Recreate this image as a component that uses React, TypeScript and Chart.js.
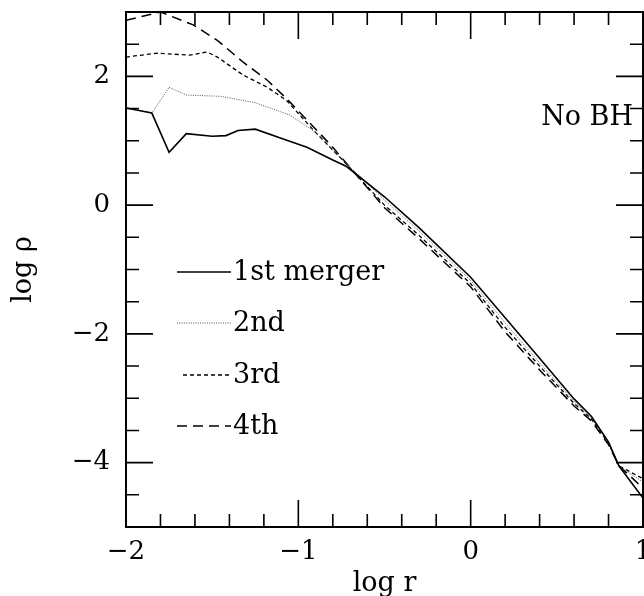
import React, { useEffect, useRef } from 'react';
import { Chart, registerables } from 'chart.js';

Chart.register(...registerables);

// ---- data (log r, log rho) ----
const xFirst = [-2.0, -1.85, -1.75, -1.65, -1.5, -1.42, -1.35, -1.25, -1.1, -0.95, -0.8, -0.72, -0.5, -0.3, 0.0, 0.2, 0.4, 0.6, 0.7, 0.8, 0.86, 0.93, 1.0];
const yFirst = [1.51, 1.43, 0.82, 1.11, 1.07, 1.08, 1.16, 1.18, 1.04, 0.9, 0.7, 0.6, 0.13, -0.35, -1.12, -1.75, -2.38, -3.01, -3.28, -3.68, -4.05, -4.3, -4.55];

const xSecond = [-2.0, -1.85, -1.75, -1.65, -1.45, -1.25, -1.05, -0.9, -0.75, -0.5, -0.3, 0.0, 0.2, 0.4, 0.6, 0.7, 0.8, 0.86, 0.93, 1.0];
const ySecond = [1.51, 1.43, 1.83, 1.71, 1.69, 1.59, 1.4, 1.13, 0.72, 0.08, -0.4, -1.17, -1.83, -2.45, -3.05, -3.3, -3.68, -4.05, -4.18, -4.3];

const xThird = [-2.0, -1.82, -1.63, -1.53, -1.47, -1.32, -1.18, -1.07, -0.9, -0.75, -0.5, -0.3, 0.0, 0.2, 0.4, 0.6, 0.7, 0.8, 0.86, 0.93, 1.0];
const yThird = [2.3, 2.36, 2.33, 2.38, 2.3, 2.02, 1.83, 1.63, 1.13, 0.72, 0.0, -0.47, -1.22, -1.9, -2.5, -3.08, -3.32, -3.7, -4.05, -4.15, -4.25];

const xFourth = [-2.0, -1.8, -1.61, -1.47, -1.32, -1.18, -1.07, -0.91, -0.8, -0.75, -0.5, -0.3, 0.0, 0.2, 0.4, 0.6, 0.7, 0.8, 0.86, 0.93, 1.0];
const yFourth = [2.87, 3.0, 2.8, 2.56, 2.22, 1.94, 1.66, 1.21, 0.9, 0.74, -0.04, -0.52, -1.27, -1.97, -2.56, -3.12, -3.35, -3.72, -4.05, -4.22, -4.4];

const seriesNames = ['1st merger', '2nd', '3rd', '4th'];

const xTickValues = [-2, -1, 0, 1];
const yTickValues = [-4, -2, 0, 2];
const xMinorTicks = [-1.8, -1.6, -1.4, -1.2, -0.8, -0.6, -0.4, -0.2, 0.2, 0.4, 0.6, 0.8];
const yMinorTicks = [-4.5, -3.5, -3, -2.5, -1.5, -1, -0.5, 0.5, 1, 1.5, 2.5];

const annotationText = 'No BH';
const xTitle = 'log r';
const yTitle = 'log ρ';

const FONT = '"DejaVu Serif", serif';

const styles = [
  { color: '#000', width: 1.6, dash: [] as number[] },
  { color: '#555', width: 1, dash: [1, 1.3] },
  { color: '#000', width: 1.3, dash: [4, 3] },
  { color: '#000', width: 1.5, dash: [10, 6] },
];

const fmt = (v: number) => (v < 0 ? '\u2212' + Math.abs(v) : String(v));

export default function App() {
  const ref = useRef<HTMLCanvasElement>(null);

  useEffect(() => {
    if (!ref.current) return;
    const toPts = (xs: number[], ys: number[]) => xs.map((x, i) => ({ x, y: ys[i] }));
    const allX = [xFirst, xSecond, xThird, xFourth];
    const allY = [yFirst, ySecond, yThird, yFourth];

    const decor = {
      id: 'decor',
      afterDraw(chart: any) {
        const { ctx, chartArea: a, scales } = chart;
        const xs = scales.x;
        const ys = scales.y;
        ctx.save();
        ctx.strokeStyle = '#000';
        ctx.setLineDash([]);
        ctx.lineWidth = 1.6;
        const majorLen = 27;
        const minorLen = 13;
        ctx.beginPath();
        const xt = (v: number, len: number) => {
          const px = xs.getPixelForValue(v);
          ctx.moveTo(px, a.bottom);
          ctx.lineTo(px, a.bottom - len);
          ctx.moveTo(px, a.top);
          ctx.lineTo(px, a.top + len);
        };
        const yt = (v: number, len: number) => {
          const py = ys.getPixelForValue(v);
          ctx.moveTo(a.left, py);
          ctx.lineTo(a.left + len, py);
          ctx.moveTo(a.right, py);
          ctx.lineTo(a.right - len, py);
        };
        xTickValues.forEach((v) => xt(v, majorLen));
        xMinorTicks.forEach((v) => xt(v, minorLen));
        yTickValues.forEach((v) => yt(v, majorLen));
        yMinorTicks.forEach((v) => yt(v, minorLen));
        ctx.stroke();
        ctx.lineWidth = 2;
        ctx.strokeRect(a.left, a.top, a.right - a.left, a.bottom - a.top);

        // legend
        const baselines = [280, 331, 383, 434];
        const starts = [177, 177, 183, 177];
        ctx.font = '27px ' + FONT;
        ctx.fillStyle = '#000';
        ctx.textAlign = 'left';
        ctx.textBaseline = 'alphabetic';
        seriesNames.forEach((name, i) => {
          const s = styles[i];
          ctx.strokeStyle = s.color;
          ctx.lineWidth = s.width;
          ctx.setLineDash(s.dash);
          ctx.beginPath();
          ctx.moveTo(starts[i], baselines[i] - 8);
          ctx.lineTo(231, baselines[i] - 8);
          ctx.stroke();
          ctx.fillText(name, 233, baselines[i]);
        });
        ctx.setLineDash([]);

        // annotation
        ctx.textAlign = 'right';
        ctx.fillText(annotationText, 633, 125);

        // axis titles
        ctx.textAlign = 'center';
        ctx.fillText(xTitle, (a.left + a.right) / 2, 591);
        ctx.save();
        ctx.translate(31, (a.top + a.bottom) / 2);
        ctx.rotate(-Math.PI / 2);
        ctx.fillText(yTitle, 0, 0);
        ctx.restore();
        ctx.restore();
      },
    };

    const chart = new Chart(ref.current, {
      type: 'line',
      data: {
        datasets: seriesNames.map((name, i) => ({
          label: name,
          data: toPts(allX[i], allY[i]),
          borderColor: styles[i].color,
          borderWidth: styles[i].width,
          borderDash: styles[i].dash,
          pointRadius: 0,
          tension: 0,
          fill: false,
        })),
      },
      options: {
        responsive: false,
        animation: false,
        events: [],
        layout: { padding: { top: 12, right: 1, left: 0, bottom: 0 } },
        plugins: { legend: { display: false }, tooltip: { enabled: false }, title: { display: false } },
        scales: {
          x: {
            type: 'linear',
            min: -2,
            max: 1,
            grid: { display: false, drawTicks: false },
            border: { display: false },
            ticks: {
              font: { family: FONT, size: 26 },
              color: '#000',
              padding: 10,
              maxRotation: 0,
              autoSkip: false,
              callback: (v: any) => fmt(Number(v)),
            },
            afterBuildTicks: (s: any) => {
              s.ticks = xTickValues.map((v) => ({ value: v }));
            },
            afterFit: (s: any) => {
              s.height = 69;
              s.paddingLeft = 0;
              s.paddingRight = 0;
            },
          },
          y: {
            type: 'linear',
            min: -5,
            max: 3,
            grid: { display: false, drawTicks: false },
            border: { display: false },
            ticks: {
              font: { family: FONT, size: 26 },
              color: '#000',
              padding: 16,
              autoSkip: false,
              callback: (v: any) => fmt(Number(v)),
            },
            afterBuildTicks: (s: any) => {
              s.ticks = yTickValues.map((v) => ({ value: v }));
            },
            afterFit: (s: any) => {
              s.width = 126;
              s.paddingTop = 0;
              s.paddingBottom = 0;
            },
          },
        },
      },
      plugins: [decor],
    });
    return () => chart.destroy();
  }, []);

  return (
    <div style={{ position: 'absolute', left: 0, top: 0, width: 644, height: 596, background: '#fff' }}>
      <canvas ref={ref} width={644} height={596} style={{ display: 'block' }} />
    </div>
  );
}
